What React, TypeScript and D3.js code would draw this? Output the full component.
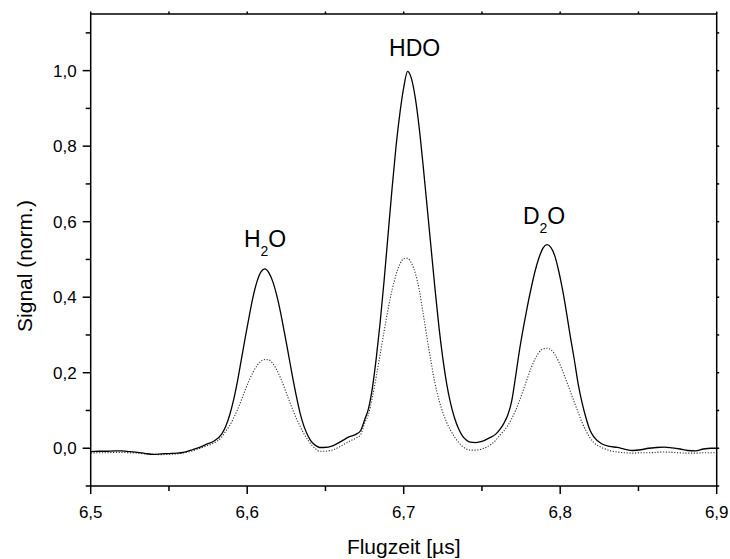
import React from "react";
import * as d3 from "d3";

type Pt = [number, number];

// Flugzeit [µs] vs. normalised signal, solid trace
const solidSignal: Pt[] = [
  [6.5, -0.009], [6.505, -0.008], [6.51, -0.008], [6.515, -0.007], [6.52, -0.007], [6.525, -0.009],
  [6.53, -0.011], [6.535, -0.014], [6.54, -0.016], [6.545, -0.015], [6.55, -0.014], [6.555, -0.013],
  [6.56, -0.01], [6.565, -0.004], [6.57, 0.003],
  [6.5738, 0.01], [6.5788, 0.019], [6.5838, 0.038], [6.5863, 0.058], [6.5888, 0.088], [6.5913, 0.128],
  [6.5938, 0.178], [6.5963, 0.236], [6.5988, 0.294], [6.6013, 0.35], [6.6038, 0.402], [6.6063, 0.442],
  [6.6088, 0.467], [6.6113, 0.475], [6.6138, 0.465], [6.6163, 0.442], [6.6188, 0.406], [6.6213, 0.36],
  [6.6238, 0.306], [6.6263, 0.25], [6.6288, 0.193], [6.6313, 0.14], [6.6338, 0.093], [6.6363, 0.058],
  [6.6388, 0.033], [6.6413, 0.016], [6.6438, 0.007], [6.6463, 0.002], [6.6488, 0.002],
  [6.655, 0.007], [6.66, 0.018], [6.665, 0.03], [6.67, 0.038], [6.6725, 0.047],
  [6.675, 0.075], [6.6775, 0.105], [6.68, 0.16], [6.6825, 0.24], [6.685, 0.335], [6.6875, 0.445],
  [6.69, 0.565], [6.6925, 0.685], [6.695, 0.795], [6.6975, 0.885], [6.7, 0.955], [6.7025, 0.998],
  [6.705, 0.978], [6.7075, 0.925], [6.71, 0.845], [6.7125, 0.745], [6.715, 0.638], [6.7175, 0.53],
  [6.72, 0.422], [6.7225, 0.322], [6.725, 0.238], [6.7275, 0.17], [6.73, 0.118], [6.7325, 0.08],
  [6.735, 0.052], [6.7375, 0.033], [6.74, 0.022], [6.7425, 0.016], [6.746, 0.015], [6.75, 0.018],
  [6.755, 0.028], [6.759, 0.038], [6.7615, 0.05], [6.764, 0.066], [6.7665, 0.088], [6.769, 0.125],
  [6.7715, 0.19], [6.774, 0.26], [6.7765, 0.32], [6.779, 0.375], [6.7815, 0.425], [6.784, 0.47],
  [6.7865, 0.505], [6.789, 0.53], [6.7915, 0.539], [6.794, 0.532], [6.7965, 0.51], [6.799, 0.47],
  [6.8015, 0.42], [6.804, 0.36], [6.8065, 0.295], [6.809, 0.235], [6.8115, 0.17], [6.814, 0.12],
  [6.8165, 0.08], [6.819, 0.048], [6.8215, 0.03], [6.8265, 0.012], [6.8315, 0.005], [6.8365, 0.002],
  [6.8415, -0.003], [6.8465, -0.006], [6.8515, -0.004], [6.8565, 0.0], [6.8615, 0.002], [6.8665, 0.003],
  [6.8715, 0.001], [6.8765, -0.002], [6.8815, -0.006], [6.8865, -0.007], [6.8915, -0.002], [6.8965, 0.0],
  [6.9, 0.0],
];

// dotted trace
const dottedSignal: Pt[] = [
  [6.5, -0.013], [6.505, -0.012], [6.51, -0.012], [6.515, -0.011], [6.52, -0.011], [6.525, -0.012],
  [6.53, -0.013], [6.535, -0.015], [6.54, -0.016], [6.545, -0.017], [6.55, -0.016], [6.555, -0.015],
  [6.56, -0.012], [6.565, -0.007], [6.57, 0.0],
  [6.5738, 0.006], [6.5788, 0.014], [6.5838, 0.03], [6.5863, 0.045], [6.5888, 0.06], [6.5913, 0.08],
  [6.5938, 0.102], [6.5963, 0.128], [6.5988, 0.155], [6.6013, 0.18], [6.6038, 0.202], [6.6063, 0.219],
  [6.6088, 0.23], [6.6113, 0.235], [6.6138, 0.234], [6.6163, 0.225], [6.6188, 0.208], [6.6213, 0.186],
  [6.6238, 0.16], [6.6263, 0.132], [6.6288, 0.105], [6.6313, 0.08], [6.6338, 0.058], [6.6363, 0.038],
  [6.6388, 0.022], [6.6413, 0.008], [6.6438, -0.002], [6.6463, -0.008], [6.6488, -0.008],
  [6.655, -0.004], [6.66, 0.006], [6.665, 0.018], [6.67, 0.028], [6.6725, 0.036],
  [6.675, 0.066], [6.6775, 0.09], [6.68, 0.135], [6.6825, 0.19], [6.685, 0.25], [6.6875, 0.31],
  [6.69, 0.368], [6.6925, 0.418], [6.695, 0.458], [6.6975, 0.487], [6.7, 0.502], [6.7025, 0.503],
  [6.705, 0.49], [6.7075, 0.462], [6.71, 0.418], [6.7125, 0.355], [6.715, 0.29], [6.7175, 0.228],
  [6.72, 0.172], [6.7225, 0.128], [6.725, 0.095], [6.7275, 0.068], [6.73, 0.047], [6.7325, 0.03],
  [6.735, 0.016], [6.7375, 0.005], [6.74, -0.002], [6.7425, -0.005], [6.746, -0.005], [6.75, -0.002],
  [6.755, 0.008], [6.759, 0.022], [6.7615, 0.035], [6.764, 0.046], [6.7665, 0.06], [6.769, 0.078],
  [6.7715, 0.1], [6.774, 0.126], [6.7765, 0.155], [6.779, 0.185], [6.7815, 0.213], [6.784, 0.237],
  [6.7865, 0.254], [6.789, 0.263], [6.7915, 0.265], [6.794, 0.261], [6.7965, 0.249], [6.799, 0.23],
  [6.8015, 0.205], [6.804, 0.178], [6.8065, 0.15], [6.809, 0.122], [6.8115, 0.095], [6.814, 0.068],
  [6.8165, 0.046], [6.819, 0.028], [6.8215, 0.015], [6.8265, 0.002], [6.8315, -0.006], [6.8365, -0.01],
  [6.8415, -0.012], [6.8465, -0.013], [6.8515, -0.012], [6.8565, -0.012], [6.8615, -0.011], [6.8665, -0.01],
  [6.8715, -0.011], [6.8765, -0.012], [6.8815, -0.013], [6.8865, -0.013], [6.8915, -0.012], [6.8965, -0.012],
  [6.9, -0.012],
];

const xDomain: [number, number] = [6.5, 6.9];
const yDomain: [number, number] = [-0.1, 1.15];
const xMajorTicks = [6.5, 6.6, 6.7, 6.8, 6.9];
const xMinorTicks = [6.55, 6.65, 6.75, 6.85];
const yMajorTicks = [0, 0.2, 0.4, 0.6, 0.8, 1.0];
const yMinorTicks = [-0.1, 0.1, 0.3, 0.5, 0.7, 0.9, 1.1];

const xTitle = "Flugzeit [µs]";
const yTitle = "Signal (norm.)";

type LabelPart = { text: string; sub?: boolean };
const peakLabelParts: LabelPart[][] = [
  [{ text: "H" }, { text: "2", sub: true }, { text: "O" }],
  [{ text: "HDO" }],
  [{ text: "D" }, { text: "2", sub: true }, { text: "O" }],
];
const peakLabelX = [6.6114, 6.707, 6.7897];
const peakLabelY = [0.533, 1.039, 0.594];

const W = 730;
const H = 559;
const M = { top: 14, right: 13.3, bottom: 73, left: 90.7 };
const FONT = "Arial, 'Liberation Sans', Helvetica, sans-serif";

export default function App() {
  const x = d3.scaleLinear().domain(xDomain).range([M.left, W - M.right]);
  const y = d3.scaleLinear().domain(yDomain).range([H - M.bottom, M.top]);
  const line = d3
    .line<Pt>()
    .x((d) => x(d[0]))
    .y((d) => y(d[1]))
    .curve(d3.curveMonotoneX);
  const fmt = (v: number) => d3.format(".1f")(v).replace(".", ",");

  const x0 = M.left;
  const x1 = W - M.right;
  const y0 = H - M.bottom;
  const y1 = M.top;
  const major = 8;
  const minor = 5;
  const tiny = 2.5;
  const axisW = 1.5;

  return (
    <svg
      width={W}
      height={H}
      style={{ position: "absolute", left: 0, top: 0, background: "#fff" }}
      fontFamily={FONT}
    >
      <rect x={0} y={0} width={W} height={H} fill="#fff" />
      <defs>
        <clipPath id="plotClip">
          <rect x={x0} y={y1} width={x1 - x0} height={y0 - y1} />
        </clipPath>
      </defs>

      <g clipPath="url(#plotClip)">
        <path
          d={line(dottedSignal) || ""}
          fill="none"
          stroke="#333"
          strokeWidth={1.1}
          strokeDasharray="1.2 1.6"
        />
        <path d={line(solidSignal) || ""} fill="none" stroke="#000" strokeWidth={1.3} />
      </g>

      {/* frame */}
      <rect x={x0} y={y1} width={x1 - x0} height={y0 - y1} fill="none" stroke="#000" strokeWidth={axisW} />

      {/* bottom ticks */}
      {xMajorTicks.map((t) => (
        <g key={"xM" + t}>
          <line x1={x(t)} x2={x(t)} y1={y0} y2={y0 + major} stroke="#000" strokeWidth={axisW} />
          <text x={x(t)} y={y0 + 32} textAnchor="middle" fontSize={17} fill="#000">
            {fmt(t)}
          </text>
        </g>
      ))}
      {xMinorTicks.map((t) => (
        <line key={"xm" + t} x1={x(t)} x2={x(t)} y1={y0} y2={y0 + minor} stroke="#000" strokeWidth={axisW} />
      ))}
      {/* top tiny ticks */}
      {[...xMajorTicks, ...xMinorTicks].map((t) => (
        <line key={"xt" + t} x1={x(t)} x2={x(t)} y1={y1} y2={y1 - tiny} stroke="#000" strokeWidth={axisW} />
      ))}

      {/* left ticks */}
      {yMajorTicks.map((t) => (
        <g key={"yM" + t}>
          <line x1={x0} x2={x0 - major} y1={y(t)} y2={y(t)} stroke="#000" strokeWidth={axisW} />
          <text x={x0 - 14} y={y(t) + 6} textAnchor="end" fontSize={17} fill="#000">
            {fmt(t)}
          </text>
        </g>
      ))}
      {yMinorTicks.map((t) => (
        <line key={"ym" + t} x1={x0} x2={x0 - minor} y1={y(t)} y2={y(t)} stroke="#000" strokeWidth={axisW} />
      ))}
      {/* right tiny ticks */}
      {[...yMajorTicks, ...yMinorTicks].map((t) => (
        <line key={"yr" + t} x1={x1} x2={x1 + tiny} y1={y(t)} y2={y(t)} stroke="#000" strokeWidth={axisW} />
      ))}

      {/* axis titles */}
      <text x={(x0 + x1) / 2} y={554} textAnchor="middle" fontSize={21} fill="#000">
        {xTitle}
      </text>
      <text
        transform={`translate(31.5, ${(y0 + y1) / 2 + 16}) rotate(-90)`}
        textAnchor="middle"
        fontSize={21}
        fill="#000"
      >
        {yTitle}
      </text>

      {/* peak labels */}
      {peakLabelParts.map((parts, i) => (
        <text key={"pl" + i} x={x(peakLabelX[i])} y={y(peakLabelY[i])} textAnchor="middle" fontSize={23} fill="#000">
          {parts.map((p, j) => {
            const prevSub = j > 0 && parts[j - 1].sub;
            const dy = p.sub ? 9 : prevSub ? -9 : 0;
            return (
              <tspan key={j} dy={dy} fontSize={p.sub ? 14 : 23}>
                {p.text}
              </tspan>
            );
          })}
        </text>
      ))}
    </svg>
  );
}
